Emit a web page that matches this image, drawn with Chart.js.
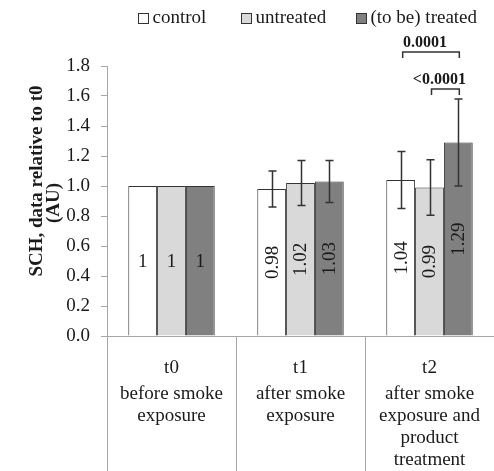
<!DOCTYPE html>
<html>
<head>
<meta charset="utf-8">
<script src="https://cdn.jsdelivr.net/npm/chart.js@4/dist/chart.umd.min.js"></script>
<style>
html, body { margin: 0; padding: 0; background: #ffffff; }
#wrap { width: 494px; height: 471px; }
</style>
</head>
<body>
<div id="wrap"><canvas id="c" width="494" height="471"></canvas></div>
<script>
// ---- data ----
const categories = ["t0", "t1", "t2"];
const categoryDescriptions = [
  ["before smoke", "exposure"],
  ["after smoke", "exposure"],
  ["after smoke", "exposure and", "product", "treatment"]
];
const seriesNames = ["control", "untreated", "(to be) treated"];
const controlValues = [1, 0.98, 1.04];
const untreatedValues = [1, 1.02, 0.99];
const treatedValues = [1, 1.03, 1.29];
const controlErrors = [0, 0.12, 0.19];
const untreatedErrors = [0, 0.15, 0.185];
const treatedErrors = [0, 0.14, 0.29];
const yMin = 0, yMax = 1.8, yStep = 0.2;
const yTitleLines = ["SCH, data relative to t0", "(AU)"];
// significance brackets
const sigLabels = ["0.0001", "<0.0001"];
const sigCategory = [2, 2];
const sigFromSeries = [0, 1];
const sigToSeries = [2, 2];
const sigLevels = [1.893, 1.647];

const seriesColors = ["#ffffff", "#d9d9d9", "#808080"];
const FONT = "'Liberation Serif', 'Times New Roman', serif";
const TEXT = "#1a1a1a";
const AXIS = "#a6a6a6";
const INK = "#333333";

const errorSets = [controlErrors, untreatedErrors, treatedErrors];

const extrasPlugin = {
  id: "extras",
  afterDatasetsDraw(chart) {
    const ctx = chart.ctx;
    const ys = chart.scales.y;
    const xs = chart.scales.x;
    const area = chart.chartArea;
    ctx.save();

    // error bars
    ctx.strokeStyle = INK;
    ctx.lineWidth = 1.5;
    chart.data.datasets.forEach((ds, di) => {
      const meta = chart.getDatasetMeta(di);
      meta.data.forEach((bar, j) => {
        const e = errorSets[di][j];
        if (!e) return;
        const v = ds.data[j];
        const yt = ys.getPixelForValue(v + e);
        const yb = ys.getPixelForValue(v - e);
        const x = Math.round(bar.x) + 0.5;
        ctx.beginPath();
        ctx.moveTo(x, yt); ctx.lineTo(x, yb);
        ctx.moveTo(x - 4, yt); ctx.lineTo(x + 4, yt);
        ctx.moveTo(x - 4, yb); ctx.lineTo(x + 4, yb);
        ctx.stroke();
      });
    });

    // value labels
    ctx.fillStyle = TEXT;
    ctx.font = "19px " + FONT;
    ctx.textAlign = "center";
    ctx.textBaseline = "middle";
    chart.data.datasets.forEach((ds, di) => {
      const meta = chart.getDatasetMeta(di);
      meta.data.forEach((bar, j) => {
        const cy = (bar.y + bar.base) / 2;
        const txt = String(ds.data[j]);
        ctx.save();
        ctx.translate(bar.x, cy);
        if (j > 0) ctx.rotate(-Math.PI / 2);
        ctx.fillText(txt, 0, 1);
        ctx.restore();
      });
    });

    // significance brackets
    ctx.strokeStyle = INK;
    ctx.lineWidth = 1.5;
    ctx.font = "bold 16px " + FONT;
    sigLabels.forEach((lab, k) => {
      const c = sigCategory[k];
      const x1 = chart.getDatasetMeta(sigFromSeries[k]).data[c].x + 2;
      const x2 = chart.getDatasetMeta(sigToSeries[k]).data[c].x + 1;
      const y = ys.getPixelForValue(sigLevels[k]);
      ctx.beginPath();
      ctx.moveTo(x1, y + 6); ctx.lineTo(x1, y); ctx.lineTo(x2, y); ctx.lineTo(x2, y + 6);
      ctx.stroke();
      ctx.fillText(lab, (x1 + x2) / 2 - 6, y - 9);
    });

    // category labels
    ctx.font = "19px " + FONT;
    categories.forEach((cat, i) => {
      const x = xs.getPixelForValue(i);
      ctx.fillText(cat, x, area.bottom + 32);
      categoryDescriptions[i].forEach((line, k) => {
        ctx.fillText(line, x, area.bottom + 58 + k * 22);
      });
    });

    // y axis title
    ctx.font = "bold 19px " + FONT;
    const midY = (area.top + area.bottom) / 2;
    ctx.save();
    ctx.translate(37, midY - 20);
    ctx.rotate(-Math.PI / 2);
    ctx.fillText(yTitleLines[0], 0, 0);
    ctx.restore();
    ctx.save();
    ctx.translate(54, midY + 2);
    ctx.rotate(-Math.PI / 2);
    ctx.fillText(yTitleLines[1], 0, 0);
    ctx.restore();

    // legend
    const legendBoxX = [138.5, 241.5, 356.5];
    ctx.font = "19px " + FONT;
    ctx.textAlign = "left";
    seriesNames.forEach((name, i) => {
      const bx = legendBoxX[i];
      ctx.fillStyle = seriesColors[i];
      ctx.fillRect(bx, 13.5, 10, 10);
      ctx.strokeStyle = INK;
      ctx.lineWidth = 1;
      ctx.strokeRect(bx, 13.5, 10, 10);
      ctx.fillStyle = TEXT;
      ctx.fillText(name, bx + 14, 18.5);
    });

    ctx.restore();
  }
};

const yTickValues = [];
for (let i = 0; i <= Math.round((yMax - yMin) / yStep); i++) yTickValues.push(+(yMin + i * yStep).toFixed(1));

new Chart(document.getElementById("c"), {
  type: "bar",
  data: {
    labels: categories,
    datasets: [
      { label: seriesNames[0], data: controlValues, backgroundColor: seriesColors[0] },
      { label: seriesNames[1], data: untreatedValues, backgroundColor: seriesColors[1] },
      { label: seriesNames[2], data: treatedValues, backgroundColor: seriesColors[2] }
    ].map(d => Object.assign(d, {
      borderColor: INK, borderWidth: 1, barPercentage: 1.0, categoryPercentage: 0.67
    }))
  },
  options: {
    responsive: false,
    animation: false,
    layout: { padding: { top: 66, right: 0, bottom: 0, left: 0 } },
    plugins: { legend: { display: false }, tooltip: { enabled: false } },
    scales: {
      x: {
        ticks: { display: false },
        grid: {
          offset: true,
          drawOnChartArea: false,
          drawTicks: true,
          tickLength: 135,
          color: (c) => (c.type === "tick" ? AXIS : "rgba(0,0,0,0)"),
          lineWidth: 1
        },
        border: { display: true, color: AXIS, width: 1 }
      },
      y: {
        min: yMin,
        max: yMax,
        afterBuildTicks: (s) => { s.ticks = yTickValues.map(v => ({ value: v })); },
        afterFit: (s) => { s.width = 107; },
        ticks: {
          font: { family: FONT, size: 19 },
          color: TEXT,
          padding: 11,
          callback: (v) => Number(v).toFixed(1)
        },
        grid: { drawOnChartArea: false, drawTicks: true, tickLength: 6, color: AXIS },
        border: { display: true, color: AXIS, width: 1 }
      }
    }
  },
  plugins: [extrasPlugin]
});
</script>
</body>
</html>
